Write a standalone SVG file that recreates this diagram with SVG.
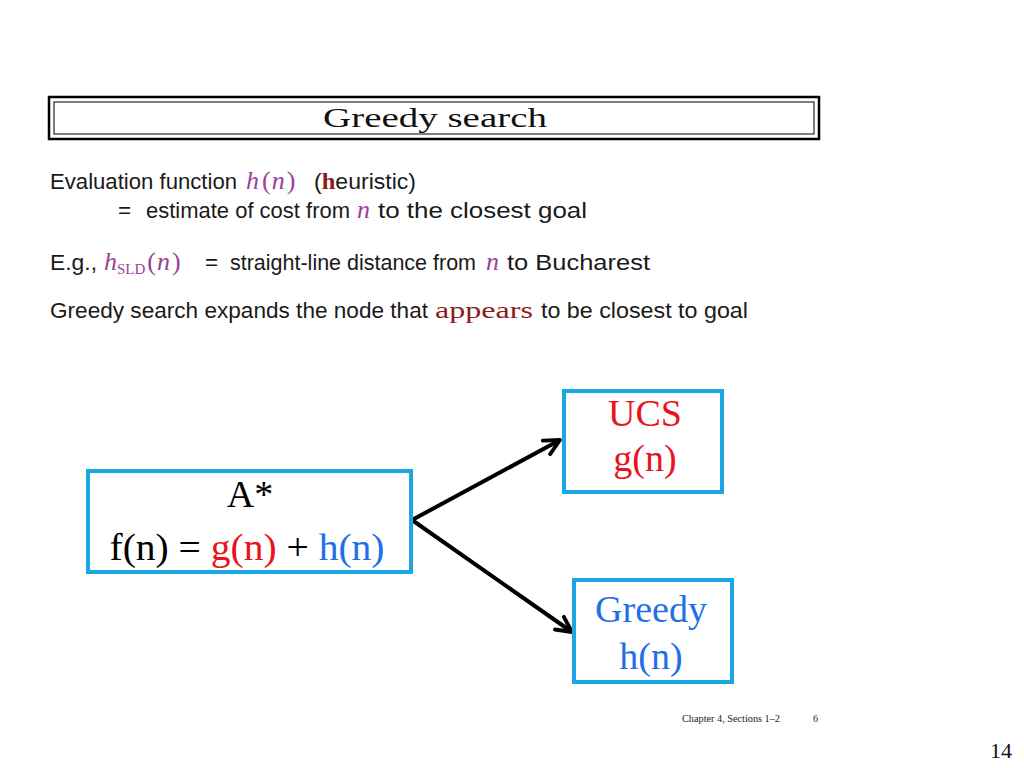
<svg xmlns="http://www.w3.org/2000/svg" width="1024" height="768" viewBox="0 0 1024 768">
<style>
.sans{font-family:"Liberation Sans","DejaVu Sans",sans-serif;font-size:22.5px;fill:#1a1a1a}
.math{font-family:"Liberation Serif","DejaVu Serif",serif;font-size:26px;fill:#9c3f9c}
.it{font-style:italic}
.red{font-family:"Liberation Serif","DejaVu Serif",serif;font-size:24px;fill:#8e1b1b}
.node rect{fill:#fff;stroke:#1aa8e4;stroke-width:4}
.nt{font-family:"Liberation Serif","Times New Roman",serif;font-size:38px;text-anchor:middle}
.edge{stroke:#000;stroke-width:4;fill:none}
</style>
<defs>
<marker id="arr" viewBox="0 0 20 20" refX="17" refY="10" markerWidth="5.5" markerHeight="5.5" markerUnits="strokeWidth" orient="auto">
<path d="M3,3 L17,10 L3,17" fill="none" stroke="#000" stroke-width="3.5" stroke-linecap="round" stroke-linejoin="round"/>
</marker>
</defs>
<rect width="1024" height="768" fill="#fff"/>
<g id="title">
<rect x="49" y="97" width="770" height="42" fill="none" stroke="#000" stroke-width="2.5"/>
<rect x="54" y="102" width="760" height="32" fill="none" stroke="#000" stroke-width="1"/>
<text x="435" y="127" text-anchor="middle" font-family="Liberation Serif,DejaVu Serif,serif" font-size="27" fill="#111" textLength="224" lengthAdjust="spacingAndGlyphs">Greedy search</text>
</g>
<g id="body">
<text class="sans" x="50" y="189" textLength="187" lengthAdjust="spacingAndGlyphs">Evaluation function</text>
<text class="math" x="246" y="189"><tspan class="it">h</tspan><tspan dx="3">(</tspan><tspan class="it" dx="1">n</tspan><tspan dx="2">)</tspan></text>
<text class="sans" x="314" y="189" textLength="102" lengthAdjust="spacingAndGlyphs">(<tspan font-family="Liberation Serif,serif" font-weight="bold" fill="#8e1b1b" font-size="24">h</tspan>euristic)</text>
<text class="sans" x="118" y="218">=</text>
<text class="sans" x="146" y="218" textLength="204" lengthAdjust="spacingAndGlyphs">estimate of cost from</text>
<text class="math it" x="357" y="218">n</text>
<text class="sans" x="378" y="218" textLength="209" lengthAdjust="spacingAndGlyphs">to the closest goal</text>
<text class="sans" x="50" y="270" textLength="47" lengthAdjust="spacingAndGlyphs">E.g.,</text>
<text class="math" x="104" y="270"><tspan class="it">h</tspan><tspan font-size="15" dy="4">SLD</tspan><tspan dy="-4" dx="2">(</tspan><tspan class="it" dx="1">n</tspan><tspan dx="2">)</tspan></text>
<text class="sans" x="205" y="270">=</text>
<text class="sans" x="230" y="270" textLength="246" lengthAdjust="spacingAndGlyphs">straight-line distance from</text>
<text class="math it" x="486" y="270">n</text>
<text class="sans" x="507" y="270" textLength="143" lengthAdjust="spacingAndGlyphs">to Bucharest</text>
<text class="sans" x="50" y="318" textLength="378" lengthAdjust="spacingAndGlyphs">Greedy search expands the node that</text>
<text class="red" x="435" y="318" textLength="98" lengthAdjust="spacingAndGlyphs">appears</text>
<text class="sans" x="541" y="318" textLength="207" lengthAdjust="spacingAndGlyphs">to be closest to goal</text>
</g>
<g id="connectors">
<path class="edge" d="M412,520 L560,440" marker-end="url(#arr)"/>
<path class="edge" d="M412,520 L572,632" marker-end="url(#arr)"/>
</g>
<g id="node-astar" class="node">
<rect x="88" y="471" width="323" height="101"/>
<text class="nt" x="250" y="507" fill="#000">A*</text>
<text class="nt" x="247" y="560" fill="#000" textLength="275" lengthAdjust="spacingAndGlyphs">f(n) = <tspan fill="#e8141b">g(n)</tspan> + <tspan fill="#1f6fe8">h(n)</tspan></text>
</g>
<g id="node-ucs" class="node">
<rect x="564" y="391" width="158" height="101"/>
<text class="nt" x="645" y="426" fill="#e8141b">UCS</text>
<text class="nt" x="645" y="471" fill="#e8141b">g(n)</text>
</g>
<g id="node-greedy" class="node">
<rect x="574" y="580" width="158" height="102"/>
<text class="nt" x="651" y="622" fill="#1f6fe8">Greedy</text>
<text class="nt" x="651" y="669" fill="#1f6fe8">h(n)</text>
</g>
<g id="footer">
<text x="682" y="722" font-family="Liberation Serif,serif" font-size="10" fill="#222" textLength="98" lengthAdjust="spacingAndGlyphs">Chapter 4, Sections 1–2</text>
<text x="813" y="722" font-family="Liberation Serif,serif" font-size="10" fill="#222">6</text>
<text x="1012" y="758" text-anchor="end" font-family="Liberation Serif,serif" font-size="22" fill="#111">14</text>
</g>
</svg>
